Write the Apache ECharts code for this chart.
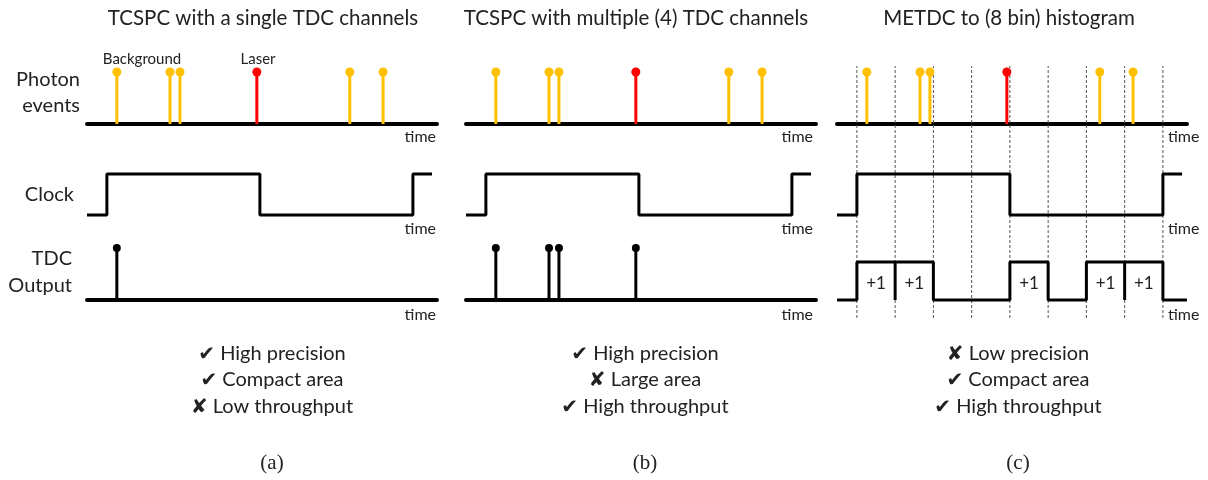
<!DOCTYPE html>
<html>
<head>
<meta charset="utf-8">
<script src="https://cdn.jsdelivr.net/npm/echarts@6/dist/echarts.min.js"></script>
<style>
  html, body { margin: 0; padding: 0; background: #fff; }
  #chart { width: 1208px; height: 480px; }
</style>
</head>
<body>
<div id="chart"></div>
<script>
// Time is measured in histogram-bin units: one clock period spans 8 bins.
const timeMin = -0.52;
const timeMax = 8.63;

// Photon arrivals (background + one laser photon)
const backgroundPhotons = [0.26, 1.65, 1.91, 6.35, 7.22];
const laserPhotons = [3.92];

// Clock edges (starts low, toggles at each edge)
const clockEdges = [0, 4, 8];
const clockStop = 8.5;

// TDC outputs
const tdcSingleChannel = [0.26];
const tdcFourChannels = [0.26, 1.65, 1.91, 3.92];

// METDC histogram: bin boundaries and bins that received a count
const histBinEdges = [0, 1, 2, 3, 4, 5, 6, 7, 8];
const histCountBins = [0, 1, 4, 6, 7];
const histCountLabel = '+1';
const pulseLevel = 0.73;

const panelTitles = [
  'TCSPC with a single TDC channels',
  'TCSPC with multiple (4) TDC channels',
  'METDC to (8 bin) histogram'
];
const panelTags = ['(a)', '(b)', '(c)'];
const panelMerits = [
  [['✔', 'High precision'], ['✔', 'Compact area'], ['✘', 'Low throughput']],
  [['✔', 'High precision'], ['✘', 'Large area'], ['✔', 'High throughput']],
  [['✘', 'Low precision'], ['✔', 'Compact area'], ['✔', 'High throughput']]
];
const rowNames = [['Photon', 'events'], ['Clock'], ['TDC', 'Output']];
const axisName = 'time';

// ---- layout ----
const panelLeft = [87, 466, 837];
const panelWidth = 350;
const panelCenter = [263, 636, 1009];
const rows = {
  photon: { top: 72, height: 52 },
  clock: { top: 174, height: 41 },
  tdc: { top: 248, height: 52 },
  guide: { top: 66, height: 252 }
};

const ORANGE = '#FFC000';
const RED = '#FF0000';
const INK = '#000000';
const TEXT = '#222222';
const SANS = "Lato, 'DejaVu Sans', sans-serif";
const SERIF = "'Liberation Serif', 'DejaVu Serif', serif";

const grids = [], xAxes = [], yAxes = [], series = [];

function addGrid(p, row, baseline) {
  const idx = grids.length;
  grids.push({ left: panelLeft[p], width: panelWidth, top: rows[row].top, height: rows[row].height });
  xAxes.push({
    gridIndex: idx, type: 'value', min: timeMin, max: timeMax,
    axisLine: { show: baseline, onZero: false, lineStyle: { color: INK, width: 4 } },
    axisTick: { show: false }, axisLabel: { show: false }, splitLine: { show: false }
  });
  yAxes.push({ gridIndex: idx, type: 'value', min: 0, max: 1, show: false });
  return idx;
}

function stemRenderer(color, r) {
  return function (params, api) {
    const top = api.coord([api.value(0), api.value(1)]);
    const base = api.coord([api.value(0), 0]);
    return {
      type: 'group',
      children: [
        { type: 'line', shape: { x1: base[0], y1: base[1], x2: top[0], y2: top[1] },
          style: { stroke: color, lineWidth: 3 } },
        { type: 'circle', shape: { cx: top[0], cy: top[1], r: r }, style: { fill: color } }
      ]
    };
  };
}

function stems(gi, times, color, r) {
  series.push({
    type: 'custom', xAxisIndex: gi, yAxisIndex: gi, animation: false, silent: true,
    data: times.map(t => [t, 1]),
    encode: { x: 0, y: 1 },
    renderItem: stemRenderer(color, r)
  });
}

function clockTrace() {
  const pts = [[timeMin, 0]];
  let level = 0;
  clockEdges.forEach(t => { pts.push([t, level]); level = 1 - level; pts.push([t, level]); });
  pts.push([clockStop, level]);
  return pts;
}

function histogramTrace() {
  const pts = [[timeMin, 0]];
  histCountBins.forEach(b => {
    pts.push([b, 0], [b, pulseLevel], [b + 1, pulseLevel], [b + 1, 0]);
  });
  pts.push([timeMax, 0]);
  return pts;
}

function trace(gi, pts) {
  series.push({
    type: 'line', xAxisIndex: gi, yAxisIndex: gi, data: pts, animation: false, silent: true,
    showSymbol: false, symbol: 'none', clip: false,
    lineStyle: { color: INK, width: 3, join: 'bevel', cap: 'butt' }
  });
}

for (let p = 0; p < 3; p++) {
  if (p === 2) {
    // dashed bin boundaries behind everything else
    const gg = addGrid(p, 'guide', false);
    series.push({
      type: 'custom', xAxisIndex: gg, yAxisIndex: gg, animation: false, silent: true,
      data: histBinEdges.map(e => [e, 1]), encode: { x: 0, y: 1 },
      renderItem: function (params, api) {
        const a = api.coord([api.value(0), 0]);
        const b = api.coord([api.value(0), 1]);
        return { type: 'line', shape: { x1: a[0], y1: a[1], x2: b[0], y2: b[1] },
          style: { stroke: '#555', lineWidth: 1, lineDash: [3, 2] } };
      }
    });
  }
  const gp = addGrid(p, 'photon', true);
  stems(gp, backgroundPhotons, ORANGE, 4.5);
  stems(gp, laserPhotons, RED, 4.5);

  const gc = addGrid(p, 'clock', false);
  trace(gc, clockTrace());

  const gt = addGrid(p, 'tdc', p !== 2);
  if (p === 0) stems(gt, tdcSingleChannel, INK, 4);
  if (p === 1) stems(gt, tdcFourChannels, INK, 4);
  if (p === 2) {
    trace(gt, histogramTrace());
    series.push({
      type: 'custom', xAxisIndex: gt, yAxisIndex: gt, animation: false, silent: true,
      data: histCountBins.map(b => [b + 0.5, 0.31]), encode: { x: 0, y: 1 },
      renderItem: function (params, api) {
        const c = api.coord([api.value(0), api.value(1)]);
        return { type: 'text', x: c[0], y: c[1],
          style: { text: histCountLabel, font: '17px ' + SANS, fill: TEXT,
            align: 'center', verticalAlign: 'middle', textAlign: 'center', textVerticalAlign: 'middle' } };
      }
    });
  }
}

// ---- text ----
const graphics = [];
function txt(x, y, s, size, align, family) {
  graphics.push({
    type: 'text', x: x, y: y, silent: true,
    style: { text: s, font: size + 'px ' + (family || SANS), fill: TEXT,
      align: align || 'center', verticalAlign: 'middle',
      textAlign: align || 'center', textVerticalAlign: 'middle' }
  });
}

panelTitles.forEach((t, p) => txt(panelCenter[p], 18, t, 20.5));

// row names on the left
txt(80, 80, rowNames[0][0], 20, 'right');
txt(80, 106, rowNames[0][1], 20, 'right');
txt(74, 195, rowNames[1][0], 20, 'right');
txt(72, 259, rowNames[2][0], 20, 'right');
txt(72, 286, rowNames[2][1], 20, 'right');

// photon annotations
txt(142, 59, 'Background', 15);
txt(258, 59, 'Laser', 15);

// "time" axis names
const timeRows = [137, 229, 315];
timeRows.forEach(y => {
  txt(436, y, axisName, 16, 'right');
  txt(813, y, axisName, 16, 'right');
  txt(1168, y, axisName, 16, 'left');
});

// merits and sub-figure tags
const meritRows = [354, 380, 407];
panelMerits.forEach((list, p) => {
  list.forEach((m, i) => txt(panelCenter[p] + 9, meritRows[i], m[0] + ' ' + m[1], 20));
  txt(panelCenter[p] + 9, 463, panelTags[p], 21, 'center', SERIF);
});

const chart = echarts.init(document.getElementById('chart'), null, { renderer: 'canvas' });
chart.setOption({
  animation: false,
  backgroundColor: '#ffffff',
  grid: grids,
  xAxis: xAxes,
  yAxis: yAxes,
  series: series,
  graphic: { elements: graphics }
});
</script>
</body>
</html>
